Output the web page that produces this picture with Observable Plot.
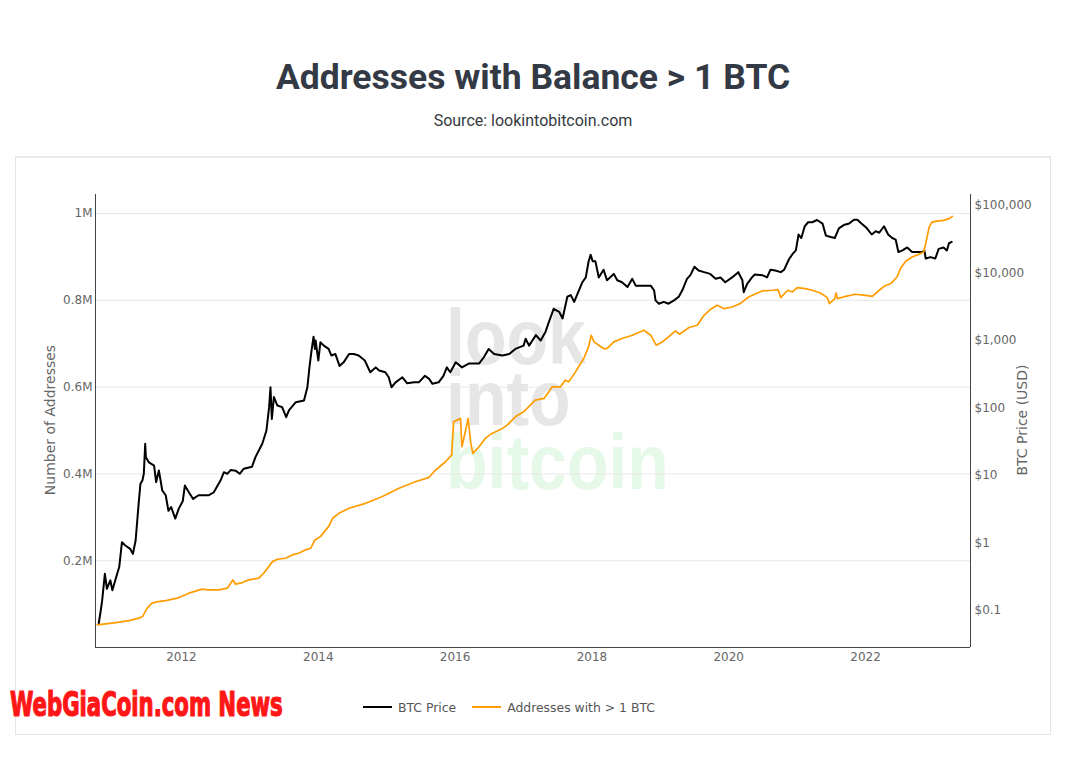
<!DOCTYPE html>
<html><head><meta charset="utf-8">
<script src="https://cdn.jsdelivr.net/npm/d3@7"></script>
<script src="https://cdn.jsdelivr.net/npm/@observablehq/plot@0.6"></script>
<style>
html,body{margin:0;padding:0;background:#fff;}
body{width:1066px;height:783px;overflow:hidden;position:relative;font-family:"DejaVu Sans",sans-serif;}
#title{position:absolute;left:0;width:1066px;top:57px;line-height:40px;text-align:center;font-family:Roboto,sans-serif;font-weight:700;font-size:35.5px;color:#343a45;}
#subtitle{position:absolute;left:0;width:1066px;top:111px;line-height:20px;text-align:center;font-family:Roboto,sans-serif;font-size:16px;color:#343a40;}
#card{position:absolute;left:15px;top:156px;width:1036px;height:579px;border:1px solid #e6e6e6;border-top:2px solid #e9e9e9;box-sizing:border-box;}
.ytitle{position:absolute;font-size:14px;color:#666;white-space:nowrap;transform-origin:center center;}
#legend{position:absolute;left:363px;top:699px;height:16px;display:flex;align-items:center;font-size:12.4px;color:#555;}
.sw{display:inline-block;width:29px;height:2px;margin-right:6px;}
#brand{position:absolute;left:10px;top:688px;font-family:"DejaVu Sans Condensed","DejaVu Sans",sans-serif;font-weight:700;font-size:33px;line-height:33px;color:#ff1616;-webkit-text-stroke:1.2px #ff1616;white-space:nowrap;transform-origin:left top;}
</style></head>
<body>
<div id="title">Addresses with Balance &gt; 1 BTC</div>
<div id="subtitle">Source: lookintobitcoin.com</div>
<div id="card"></div>
<svg id="wm" width="1066" height="783" style="position:absolute;left:0;top:0">
  <text transform="translate(446,0) scale(0.872,1)" font-family="Liberation Sans, Arial, sans-serif" font-weight="700" font-size="78"><tspan x="0" y="364" fill="#e6e6e6">look</tspan><tspan x="0" y="425" fill="#e6e6e6">into</tspan><tspan x="0" y="489" fill="#e6f8e8">bitcoin</tspan></text>
</svg>
<div id="chart"></div>
<div class="ytitle" id="ylt">Number of Addresses</div>
<div class="ytitle" id="yrt">BTC Price (USD)</div>
<div id="legend"><span class="sw" style="background:#000"></span><span>BTC Price</span><span style="width:16px"></span><span class="sw" style="background:#ff9c00"></span><span>Addresses with &gt; 1 BTC</span></div>
<div id="brand">WebGiaCoin.com News</div>
<script>
// ---- data (decimal years) ----
const priceYears = [2010.79,2010.82,2010.84,2010.88,2010.91,2010.96,2010.99,2011.06,2011.09,2011.13,2011.18,2011.25,2011.29,2011.33,2011.37,2011.40,2011.43,2011.45,2011.47,2011.48,2011.52,2011.60,2011.63,2011.67,2011.72,2011.77,2011.81,2011.85,2011.91,2011.96,2012.02,2012.05,2012.11,2012.17,2012.25,2012.40,2012.47,2012.57,2012.62,2012.67,2012.72,2012.79,2012.85,2012.91,2013.03,2013.08,2013.18,2013.24,2013.28,2013.30,2013.32,2013.35,2013.40,2013.47,2013.53,2013.57,2013.67,2013.79,2013.84,2013.87,2013.90,2013.93,2013.95,2013.96,2014.00,2014.03,2014.08,2014.15,2014.19,2014.25,2014.31,2014.37,2014.45,2014.52,2014.59,2014.68,2014.76,2014.84,2014.89,2014.98,2015.03,2015.07,2015.13,2015.23,2015.30,2015.40,2015.47,2015.56,2015.62,2015.67,2015.76,2015.83,2015.88,2015.93,2016.01,2016.10,2016.20,2016.35,2016.42,2016.49,2016.57,2016.69,2016.79,2016.88,2017.00,2017.03,2017.08,2017.18,2017.25,2017.32,2017.37,2017.44,2017.52,2017.57,2017.64,2017.69,2017.74,2017.79,2017.86,2017.91,2017.95,2017.98,2018.01,2018.05,2018.10,2018.17,2018.22,2018.32,2018.37,2018.44,2018.52,2018.59,2018.64,2018.74,2018.86,2018.91,2018.93,2018.98,2019.05,2019.12,2019.20,2019.27,2019.32,2019.39,2019.44,2019.50,2019.56,2019.64,2019.73,2019.81,2019.88,2019.95,2020.05,2020.14,2020.20,2020.22,2020.27,2020.34,2020.38,2020.49,2020.56,2020.61,2020.68,2020.76,2020.81,2020.88,2020.93,2020.98,2021.02,2021.06,2021.11,2021.16,2021.22,2021.29,2021.37,2021.42,2021.49,2021.55,2021.61,2021.68,2021.76,2021.83,2021.88,2021.94,2022.02,2022.09,2022.15,2022.20,2022.27,2022.33,2022.39,2022.44,2022.48,2022.54,2022.61,2022.68,2022.76,2022.83,2022.86,2022.88,2022.95,2023.02,2023.07,2023.14,2023.19,2023.22,2023.26];
const priceValues = [0.064,0.10,0.14,0.35,0.21,0.28,0.20,0.35,0.44,1.03,0.92,0.82,0.69,1.09,3.4,7.5,8.5,10.6,29.5,18.7,15.8,14,8.0,11.9,6,5.1,3.0,3.4,2.3,3.2,4.2,7.1,5.6,4.5,5.1,5.1,5.6,8.4,11.2,10.6,12.1,11.8,10.6,12.6,13.5,18.7,29.5,46,103,203,69,145,109,103,73,92,122,129,203,400,700,1140,750,1000,505,940,840,750,600,630,420,475,630,630,600,505,338,400,360,338,285,203,240,285,232,240,240,300,270,228,240,300,400,338,475,400,455,455,565,750,630,600,630,750,840,1060,840,1200,1000,1340,1880,2940,2660,2120,4450,4700,3730,4950,7300,8600,14700,18700,15000,15000,8600,11200,7800,9700,7800,7300,6200,8200,6500,6500,6500,5500,3930,3510,3730,3510,3930,4450,5500,8200,9300,12400,10900,10300,9700,8200,8600,7300,8600,10300,7800,5200,6900,8600,9500,9300,8600,11200,10900,10300,11200,16000,19000,21600,37200,33000,49300,56500,56500,61000,54000,35800,34100,33000,45900,51300,54000,61500,61500,54000,45900,37200,41700,39500,49300,37200,33000,31300,20500,21600,23900,20500,20500,20500,21600,16400,17200,16400,22800,23900,21600,27600,28900];
const addrYears = [2010.77,2011.04,2011.23,2011.38,2011.43,2011.50,2011.57,2011.64,2011.77,2011.94,2012.11,2012.30,2012.38,2012.55,2012.67,2012.75,2012.79,2012.89,2012.98,2013.13,2013.20,2013.33,2013.40,2013.52,2013.62,2013.71,2013.81,2013.89,2013.95,2014.03,2014.15,2014.21,2014.30,2014.45,2014.69,2014.93,2015.18,2015.42,2015.62,2015.69,2015.86,2015.95,2015.98,2016.03,2016.08,2016.10,2016.15,2016.19,2016.23,2016.26,2016.35,2016.44,2016.54,2016.69,2016.76,2016.88,2017.00,2017.17,2017.30,2017.37,2017.42,2017.54,2017.61,2017.66,2017.76,2017.88,2017.95,2017.99,2018.03,2018.10,2018.17,2018.22,2018.32,2018.44,2018.59,2018.76,2018.86,2018.94,2019.03,2019.12,2019.22,2019.28,2019.42,2019.54,2019.64,2019.73,2019.83,2019.93,2020.05,2020.17,2020.29,2020.38,2020.49,2020.64,2020.72,2020.76,2020.86,2020.93,2021.00,2021.12,2021.22,2021.34,2021.44,2021.47,2021.55,2021.57,2021.59,2021.71,2021.85,2022.00,2022.10,2022.17,2022.27,2022.37,2022.46,2022.51,2022.59,2022.68,2022.78,2022.85,2022.89,2022.93,2022.97,2023.04,2023.14,2023.22,2023.27];
const addrValues = [52200,57500,62100,67700,71300,90700,102200,105200,108200,113700,125200,134400,132800,132800,136700,155800,145900,149600,155800,159700,171200,197900,203400,205700,213400,217300,224900,228800,247900,255500,278500,297800,309300,320800,332300,347500,366900,382000,392200,405100,428100,443500,520100,524000,527900,462600,497100,527900,470400,447400,462600,481900,493400,504900,512500,531600,543200,570100,574000,589200,600700,600700,616100,612200,635200,666000,692800,719700,704300,696700,689000,689000,704300,712000,719700,731200,719700,696700,704300,715800,729600,722000,737400,742700,765700,778800,788700,781100,784800,792600,807800,814100,821700,823300,824800,806400,823300,819300,829500,827200,823300,817100,806400,792600,804100,817100,804100,809400,814100,811700,809400,819300,832400,838700,853900,873200,890700,899900,906100,911400,938300,968900,980400,982700,984300,988300,993500];
const xDomainYears = [2010.743, 2023.535];
const xTickYears = [2012, 2014, 2016, 2018, 2020, 2022];
const addrTicks = [200000, 400000, 600000, 800000, 1000000];
const addrTickLabels = ["0.2M", "0.4M", "0.6M", "0.8M", "1M"];
const addrDomain = [0, 1044000];
const priceTicks = [0.1, 1, 10, 100, 1000, 10000, 100000];
const priceTickLabels = ["$0.1", "$1", "$10", "$100", "$1,000", "$10,000", "$100,000"];
const priceDomain = [0.0283, 145600];

// ---- build ----
const toDate = y => { const yr = Math.floor(y); const s = Date.UTC(yr,0,1), e = Date.UTC(yr+1,0,1); return new Date(s + (y-yr)*(e-s)); };
const priceData = priceYears.map((y,i) => ({date: toDate(y), price: priceValues[i]}));
const addrData = addrYears.map((y,i) => ({date: toDate(y), count: addrValues[i]}));
const xDomain = xDomainYears.map(toDate);
const xTicks = xTickYears.map(y => new Date(Date.UTC(y,0,1)));

const common = {
  width: 1066, height: 520, marginLeft: 95, marginRight: 96, marginTop: 34, marginBottom: 33,
  style: {background: "transparent", overflow: "visible", fontFamily: "DejaVu Sans, sans-serif", fontSize: "12px", color: "#666"}
};
const chart = document.getElementById("chart");
function add(svg){ svg.style.position="absolute"; svg.style.left="0px"; svg.style.top="160px"; svg.style.maxWidth="none"; chart.appendChild(svg); }

// base layer: grid + left & bottom axes
add(Plot.plot({...common,
  x: {type: "utc", domain: xDomain},
  y: {type: "linear", domain: addrDomain},
  marks: [
    Plot.gridY(addrTicks, {stroke: "#e8e8e8", strokeOpacity: 1}),
    Plot.axisY({anchor: "left", ticks: addrTicks, tickFormat: d => addrTickLabels[addrTicks.indexOf(d)], tickSize: 0, tickPadding: 3, label: null, fill: "#666"}),
    Plot.axisX({anchor: "bottom", ticks: xTicks, tickFormat: d => String(xTickYears[xTicks.findIndex(t => +t === +d)]), tickSize: 0, tickPadding: 5, label: null, fill: "#666"}),
    Plot.ruleX([xDomain[0], xDomain[1]], {stroke: "#444", strokeWidth: 1}),
    Plot.ruleY([addrDomain[0]], {stroke: "#444", strokeWidth: 1})
  ]
}));
// price layer (log, right axis)
add(Plot.plot({...common,
  x: {type: "utc", domain: xDomain, axis: null},
  y: {type: "log", domain: priceDomain},
  marks: [
    Plot.axisY({anchor: "right", ticks: priceTicks, tickFormat: d => priceTickLabels[priceTicks.findIndex(t => Math.abs(t-d)/t < 1e-9)], tickSize: 0, tickPadding: 4, label: null, fill: "#666"}),
    Plot.line(priceData, {x: "date", y: "price", stroke: "#000", strokeWidth: 2})
  ]
}));
// addresses layer (linear, left)
add(Plot.plot({...common,
  x: {type: "utc", domain: xDomain, axis: null},
  y: {type: "linear", domain: addrDomain, axis: null},
  marks: [
    Plot.line(addrData, {x: "date", y: "count", stroke: "#ff9c00", strokeWidth: 1.7})
  ]
}));

// axis titles
function placeTitle(id, cx, cy){ const el=document.getElementById(id); const w=el.offsetWidth, h=el.offsetHeight; el.style.left=(cx-w/2)+"px"; el.style.top=(cy-h/2)+"px"; el.style.transform="rotate(-90deg)"; }
placeTitle("ylt", 50, 420);
placeTitle("yrt", 1021, 420);
// brand text width fit
const b = document.getElementById("brand"); const bw = b.offsetWidth; b.style.transform = "scaleX(" + (273/bw) + ")";
</script>
</body></html>
